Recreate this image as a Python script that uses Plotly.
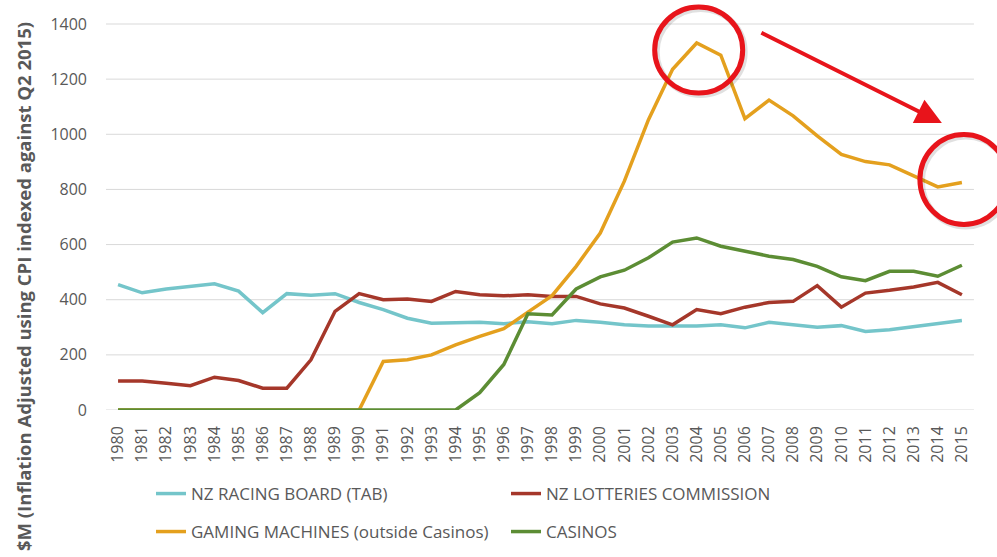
import plotly.graph_objects as go

# Annual gambling expenditure by sector, NZ$ millions (CPI-adjusted to Q2 2015)
years = list(range(1980, 2016))

tab_racing = [455, 425, 439, 449, 458, 431, 353, 422, 416, 422,
              390, 364, 333, 315, 315, 318, 313, 320, 313, 325,
              318, 309, 305, 305, 305, 309, 298, 318, 309, 300,
              306, 285, 291, 302, 313, 325]

lotteries = [105, 105, 97, 88, 119, 107, 79, 79, 182, 358,
             422, 400, 403, 394, 430, 418, 414, 418, 412, 412,
             385, 370, 340, 309, 364, 349, 373, 390, 394, 451,
             373, 424, 434, 446, 463, 418]

gaming_machines = [0, 0, 0, 0, 0, 0, 0, 0, 0, 0,
                   0, 176, 182, 200, 236, 267, 295, 355, 415, 521,
                   642, 830, 1053, 1236, 1331, 1287, 1057, 1124, 1067, 994,
                   927, 901, 889, 849, 809, 825]

casinos = [0, 0, 0, 0, 0, 0, 0, 0, 0, 0,
           0, 0, 0, 0, 0, 63, 165, 349, 345, 439,
           483, 507, 552, 609, 624, 594, 576, 558, 546, 521,
           483, 469, 503, 503, 485, 525]

y_ticks = [0, 200, 400, 600, 800, 1000, 1200, 1400]

series = [
    ("NZ RACING BOARD (TAB)", tab_racing, "#74C5CA", "legend"),
    ("NZ LOTTERIES COMMISSION", lotteries, "#A5372A", "legend"),
    ("GAMING MACHINES (outside Casinos)", gaming_machines, "#E4A01E", "legend2"),
    ("CASINOS", casinos, "#5C8D34", "legend2"),
]

GREY = "#595959"
RED = "#E8141B"
TICK_FONT = dict(family="Open Sans, DejaVu Sans, sans-serif", size=16, color=GREY)
LEGEND_FONT = dict(family="Open Sans, DejaVu Sans, sans-serif", size=17, color=GREY)

fig = go.Figure()
for name, vals, color, leg in series:
    fig.add_trace(go.Scatter(
        x=years, y=vals, name=name, mode="lines",
        line=dict(color=color, width=3.5),
        legend=leg, hoverinfo="skip",
    ))

# Light horizontal gridlines spanning the category band only
x_lo, x_hi = years[0] - 0.5, years[-1] + 0.5
shapes = []
for v in y_ticks:
    shapes.append(dict(type="line", xref="x", yref="y", x0=x_lo, x1=x_hi, y0=v, y1=v,
                       line=dict(color="#D9D9D9", width=1), layer="below"))

# Highlight circles around the peak year and the latest year
peak_i = gaming_machines.index(max(gaming_machines))
for xi, yv, dx, dy, rx, ry in [(years[peak_i], gaming_machines[peak_i], 2, -7, 44, 43),
                               (years[-1], gaming_machines[-1], 2, 3, 44, 45)]:
    shapes.append(dict(type="circle", xref="x", yref="y", xsizemode="pixel", ysizemode="pixel",
                       xanchor=xi, yanchor=yv,
                       x0=dx - rx + 2, x1=dx + rx + 2, y0=dy - ry - 2, y1=dy + ry - 2,
                       line=dict(color="rgba(0,0,0,0.12)", width=6)))
    shapes.append(dict(type="circle", xref="x", yref="y", xsizemode="pixel", ysizemode="pixel",
                       xanchor=xi, yanchor=yv,
                       x0=dx - rx, x1=dx + rx, y0=dy - ry, y1=dy + ry,
                       line=dict(color=RED, width=5)))

annotations = [
    # Downward trend arrow
    dict(x=2014.17, y=1041, xref="x", yref="y", ax=-182, ay=-91, axref="pixel", ayref="pixel",
         showarrow=True, arrowhead=2, arrowsize=1.3, arrowwidth=4, arrowcolor=RED, text=""),
    # Vertical axis title
    dict(text="<b>$M (Inflation Adjusted using CPI indexed against Q2 2015)</b>",
         textangle=-90, xref="paper", yref="paper", x=(23 - 106) / 891, y=(410 - 287) / 406,
         xanchor="center", yanchor="middle", showarrow=False,
         font=dict(family="Open Sans, DejaVu Sans, sans-serif", size=18.5, color=GREY)),
]

legend_common = dict(orientation="h", xref="container", yref="container", xanchor="left",
                     yanchor="middle", font=LEGEND_FONT, entrywidth=310, bgcolor="rgba(0,0,0,0)",
                     borderwidth=0, itemclick=False)

fig.update_layout(
    width=997, height=557,
    margin=dict(l=106, r=0, t=4, b=147),
    paper_bgcolor="white", plot_bgcolor="white",
    showlegend=True,
    legend=dict(x=151 / 997, y=1 - 494 / 557, **legend_common),
    legend2=dict(x=151 / 997, y=1 - 532 / 557, **legend_common),
    xaxis=dict(range=[x_lo, x_lo + 891 / 24.11], tickvals=years, ticktext=[str(y) for y in years],
               tickangle=-90, tickfont=TICK_FONT, showgrid=False, zeroline=False, showline=False,
               ticks="", ticklabelstandoff=12, fixedrange=True),
    yaxis=dict(range=[0, 1400 * 406 / 386], tickvals=y_ticks, tickfont=TICK_FONT,
               showgrid=False, zeroline=False, showline=False, ticks="",
               ticklabelstandoff=18, fixedrange=True),
    shapes=shapes,
    annotations=annotations,
)

fig.write_html("out.html")
